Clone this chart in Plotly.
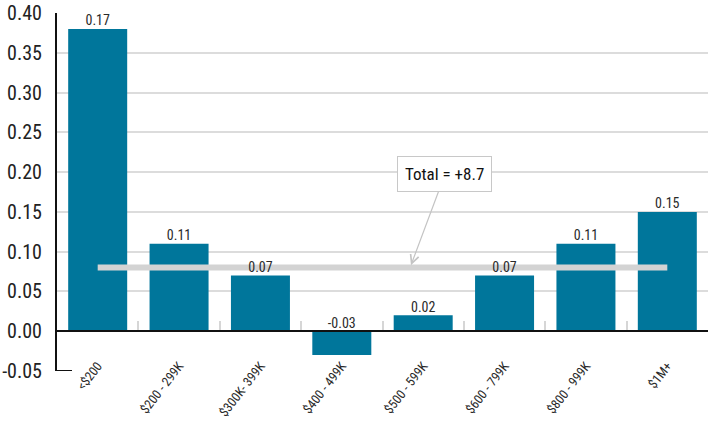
import plotly.graph_objects as go

# Price bands and the change measured in each
categories = ["<$200", "$200 - 299K", "$300K- 399K", "$400 - 499K",
              "$500 - 599K", "$600 - 799K", "$800 - 999K", "$1M+"]
values = [0.38, 0.11, 0.07, -0.03, 0.02, 0.07, 0.11, 0.15]
bar_labels = ["0.17", "0.11", "0.07", "-0.03", "0.02", "0.07", "0.11", "0.15"]
total_level = 0.08
total_text = "Total = +8.7"
y_ticks = [-0.05, 0.00, 0.05, 0.10, 0.15, 0.20, 0.25, 0.30, 0.35, 0.40]

FONT = "Liberation Sans Narrow, Roboto Condensed, DejaVu Sans Condensed, Arial Narrow, sans-serif"
BAR_COLOR = "#00769b"
GRID = "#dcdcdc"

y_min, y_max = -0.05, 0.40

fig = go.Figure()

fig.add_trace(go.Bar(
    x=categories, y=values, marker=dict(color=BAR_COLOR, line=dict(width=0)),
    width=0.725, hoverinfo="skip", showlegend=False,
))

# Total reference line across the bands
fig.add_trace(go.Scatter(
    x=[categories[0], categories[-1]], y=[total_level, total_level], mode="lines",
    line=dict(color="#d3d3d3", width=6), hoverinfo="skip", showlegend=False,
))

# Value labels above each bar (above the zero line for negatives)
fig.add_trace(go.Scatter(
    x=categories, y=[max(v, 0) for v in values], mode="text", text=bar_labels,
    textposition="top center", textfont=dict(family=FONT, size=14, color="#2a2a2a"),
    hoverinfo="skip", showlegend=False, cliponaxis=False,
))

fig.add_annotation(
    x=3.85, y=total_level + 0.003, xref="x", yref="y",
    text=total_text, showarrow=True, ax=34, ay=-91,
    arrowhead=5, arrowsize=1.4, arrowwidth=1.2, arrowcolor="#c4c4c4",
    font=dict(family=FONT, size=17, color="#111111"),
    bgcolor="white", bordercolor="#c8c8c8", borderwidth=1, borderpad=7,
)

# Short foot at the bottom of the value axis
fig.add_shape(type="line", xref="paper", yref="y", x0=0, x1=0.023, y0=y_min, y1=y_min,
              line=dict(color="#111111", width=2))

zero_pos = (0 - y_min) / (y_max - y_min)

fig.update_layout(
    width=712, height=422,
    margin=dict(l=57, r=4, t=13, b=51, autoexpand=False),
    paper_bgcolor="white", plot_bgcolor="white",
    font=dict(family=FONT, color="#222222"),
    xaxis=dict(
        type="category", categoryorder="array", categoryarray=categories,
        range=[-0.5, len(categories) - 0.5],
        tickangle=-52, tickfont=dict(family=FONT, size=13, color="#2a2a2a"),
        anchor="free", position=zero_pos, automargin=False,
        showline=True, linecolor="#111111", linewidth=2,
        ticks="inside", tickson="boundaries", ticklen=9, tickcolor="#d6d6d6", tickwidth=1.5,
        ticklabelstandoff=21,
        showgrid=False, zeroline=False, fixedrange=True,
    ),
    yaxis=dict(
        range=[y_min, y_max], tickmode="array", tickvals=y_ticks,
        ticktext=[f"{t:.2f}" for t in y_ticks], automargin=False,
        tickfont=dict(family=FONT, size=20, color="#222222"),
        showgrid=True, gridcolor=GRID, gridwidth=1.5,
        showline=True, linecolor="#111111", linewidth=2,
        zeroline=False, ticks="", ticklabelstandoff=9, fixedrange=True,
    ),
)

fig.write_html("out.html")
